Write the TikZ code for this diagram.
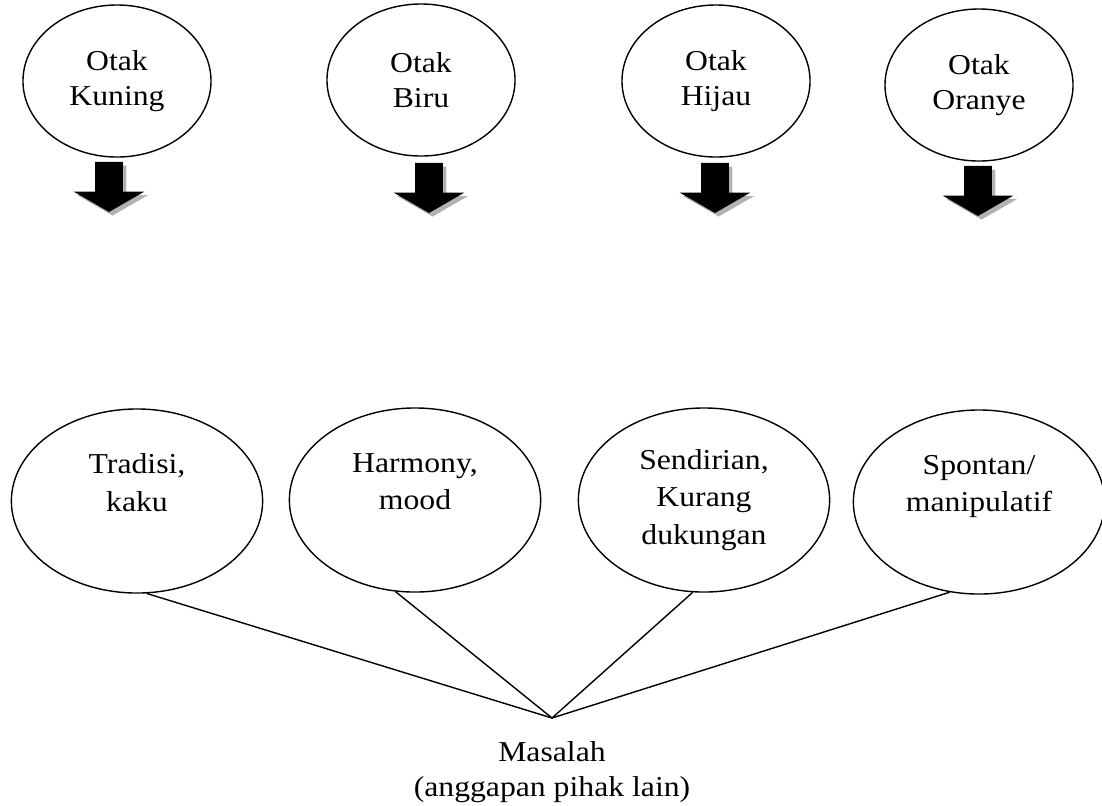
\documentclass[tikz,border=0pt]{standalone}
\usepackage{fontspec}
\setmainfont{Liberation Serif}[FakeStretch=1.1]
\usetikzlibrary{shapes.geometric,shapes.arrows,shadows}
\tikzset{
	otak/.style = {draw, ellipse, line width=1pt, inner sep=0pt, minimum width=4.7cm, minimum height=3.8cm, align=center, font=\fontsize{20.5}{25}\selectfont},
	sifat/.style = {draw, ellipse, line width=1pt, inner sep=0pt, minimum width=6.28cm, minimum height=4.6cm, align=center, font=\fontsize{20.5}{26.5}\selectfont},
	panah/.style = {single arrow, shape border rotate=270, fill=black, inner sep=0pt, text width=0.675cm, minimum height=1.25cm, single arrow head extend=0.54cm, single arrow tip angle=120, single arrow head indent=0pt, drop shadow={shadow xshift=0.09cm, shadow yshift=-0.09cm, fill=black!30, opacity=1}}
}
\begin{document}
\begin{tikzpicture}[x=0.025cm, y=-0.025cm]
%	\draw[help lines] (0,0) grid (1102,805);
	\useasboundingbox (0,0) rectangle (1102,805);
	% baris atas
	\node [otak] (kuning) at (117,81) {Otak\\Kuning};
	\node [otak] (biru) at (421,80) {Otak\\Biru};
	\node [otak] (hijau) at (716,81) {Otak\\Hijau};
	\node [otak] (oranye) at (979,85) {Otak\\Oranye};
	\node [panah] (pk) at (109,183) {};
	\node [panah] (pb) at (429,184) {};
	\node [panah] (ph) at (715,184) {};
	\node [panah] (po) at (978,187) {};
	% baris bawah
	\node [sifat] (tradisi) at (137,501) {Tradisi,\\kaku\\\phantom{k}};
	\node [sifat] (harmony) at (415,500) {Harmony,\\mood\\\phantom{k}};
	\node [sifat] (sendiri) at (704,500) {Sendirian,\\Kurang\\dukungan};
	\node [sifat] (spontan) at (979,502) {Spontan/\\manipulatif\\\phantom{k}};
	\coordinate (m) at (552,718);
	\draw [line width=1pt] (tradisi.276) -- (m);
	\draw [line width=1pt] (harmony.258) -- (m);
	\draw [line width=1pt] (sendiri.263) -- (m);
	\draw [line width=1pt] (spontan.252) -- (m);
	\node [anchor=north, inner sep=0pt, align=center, font=\fontsize{20.5}{25}\selectfont] (masalah) at (552,741) {Masalah\\(anggapan pihak lain)};
\end{tikzpicture}
\end{document}
